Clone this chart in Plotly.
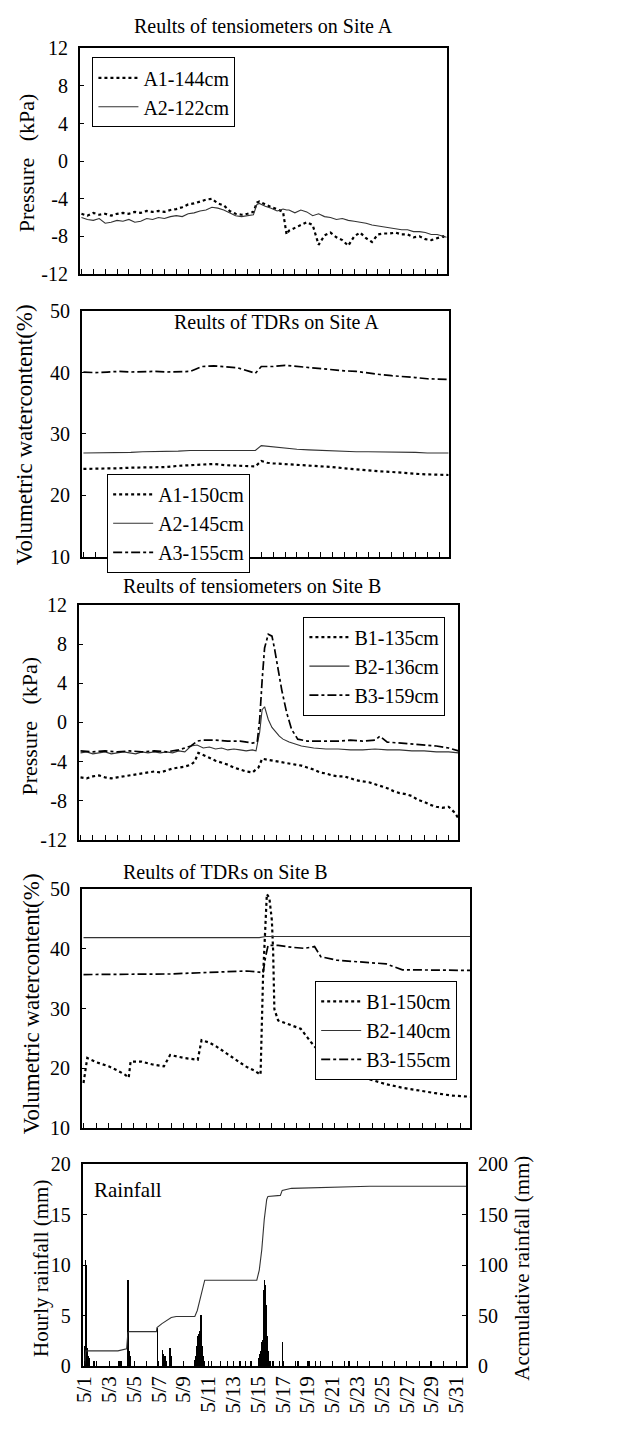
import plotly.graph_objects as go

W, H = 642, 1440
FONT = "Liberation Serif"

# ---------------- data ----------------
DAY_TICKS = list(range(1, 32))
LABEL_DAYS = [1, 3, 5, 7, 9, 11, 13, 15, 17, 19, 21, 23, 25, 27, 29, 31]
DATE_LABELS = ["5/1", "5/3", "5/5", "5/7", "5/9", "5/11", "5/13", "5/15",
               "5/17", "5/19", "5/21", "5/23", "5/25", "5/27", "5/29", "5/31"]

PRESSURE_TICKS = [-12, -8, -4, 0, 4, 8, 12]
PRESSURE_LABELS = ["-12", "-8", "-4", "0", "4", "8", "12"]
VWC_TICKS = [10, 20, 30, 40, 50]
VWC_LABELS = ["10", "20", "30", "40", "50"]
HOURLY_TICKS = [0, 5, 10, 15, 20]
HOURLY_LABELS = ["0", "5", "10", "15", "20"]
ACC_TICKS = [0, 50, 100, 150, 200]
ACC_LABELS = ["0", "50", "100", "150", "200"]

# Panel 1: tensiometers, Site A (kPa)
A_TEN_T = [1.0, 1.5, 2.0, 2.5, 3.0, 3.5, 4.0, 4.5, 5.0, 5.5, 6.0, 6.5, 7.0, 7.5, 8.0, 8.5,
           9.0, 9.5, 10.0, 10.5, 11.0, 11.5, 12.0, 12.5, 13.0, 13.5, 14.0, 14.5, 15.0, 15.5,
           15.8, 16.0, 16.5, 17.0, 17.5, 18.0, 18.3, 18.5, 19.0, 19.5, 20.0, 20.5, 21.0, 21.5,
           22.0, 22.5, 23.0, 23.5, 24.0, 24.5, 25.0, 25.5, 26.0, 26.5, 27.0, 27.5, 28.0, 28.5,
           29.0, 29.5, 30.0, 30.5, 31.0, 31.5, 31.8]
A1_144 = [-5.6, -5.8, -5.5, -5.7, -5.6, -5.8, -5.6, -5.5, -5.6, -5.4, -5.5, -5.3, -5.4, -5.3,
          -5.4, -5.2, -5.1, -4.9, -4.6, -4.5, -4.3, -4.1, -4.0, -4.5, -4.7, -5.3, -5.6, -5.7,
          -5.6, -5.4, -4.4, -4.3, -4.6, -4.9, -5.1, -5.4, -7.8, -7.4, -7.1, -6.8, -6.5, -6.8,
          -8.9, -7.9, -7.6, -8.1, -8.4, -9.0, -8.0, -7.6, -8.2, -8.6, -7.8, -7.7, -7.7, -7.6,
          -7.8, -7.8, -8.1, -8.0, -8.3, -8.4, -8.2, -8.0, -8.3]
A2_122 = [-6.0, -6.2, -6.3, -6.1, -6.6, -6.5, -6.3, -6.4, -6.2, -6.5, -6.4, -6.1, -6.2, -6.0,
          -6.1, -5.9, -5.8, -5.9, -5.6, -5.5, -5.3, -5.2, -4.9, -5.0, -5.2, -5.5, -5.8, -5.9,
          -5.8, -5.7, -4.6, -4.5, -4.8, -5.0, -5.3, -5.1, -5.2, -5.2, -5.5, -5.2, -5.4, -5.8,
          -5.6, -5.9, -6.0, -6.2, -6.1, -6.3, -6.4, -6.5, -6.6, -6.8, -6.9, -7.0, -7.1, -7.2,
          -7.3, -7.3, -7.5, -7.5, -7.6, -7.8, -7.8, -8.0, -8.1]

# Panel 2: TDRs, Site A (%)
A_TDR_T = [1, 2, 3, 4, 5, 6, 7, 8, 9, 10, 10.5, 11, 12, 13, 14, 15, 15.5, 16, 16.5, 17, 18,
           19, 20, 21, 22, 23, 24, 25, 26, 27, 28, 29, 30, 31, 31.8]
A1_150 = [24.3, 24.3, 24.3, 24.4, 24.5, 24.5, 24.6, 24.6, 24.8, 24.9, 25.0, 25.0, 25.1, 24.9,
          24.8, 24.7, 24.7, 25.6, 25.3, 25.2, 25.1, 25.0, 24.9, 24.8, 24.6, 24.4, 24.2, 24.0,
          23.9, 23.8, 23.6, 23.5, 23.4, 23.3, 23.3]
A2_145 = [26.9, 26.9, 26.9, 27.0, 27.0, 27.1, 27.1, 27.1, 27.2, 27.3, 27.3, 27.4, 27.4, 27.4,
          27.3, 27.3, 27.3, 28.1, 28.0, 27.8, 27.6, 27.5, 27.4, 27.3, 27.2, 27.2, 27.1, 27.1,
          27.1, 27.0, 27.0, 27.0, 26.9, 26.9, 26.9]
A3_155 = [40.1, 40.0, 40.1, 40.2, 40.1, 40.2, 40.2, 40.1, 40.1, 40.2, 40.6, 41.0, 41.1, 40.9,
          40.8, 40.2, 39.9, 41.0, 41.0, 41.0, 41.2, 41.0, 40.9, 40.7, 40.5, 40.3, 40.2, 39.9,
          39.7, 39.5, 39.4, 39.2, 39.0, 38.9, 38.9]

# Panel 3: tensiometers, Site B (kPa)
B1_135_T = [1, 1.5, 2, 2.5, 3, 3.5, 4, 4.5, 5, 5.5, 6, 6.5, 7, 7.5, 8, 8.5, 9, 9.5, 10, 10.3,
            10.6, 11, 11.5, 12, 12.5, 13, 13.5, 14, 14.5, 15, 15.5, 15.8, 16.2, 16.6, 17, 17.5,
            18, 18.5, 19, 19.5, 20, 20.5, 21, 21.5, 22, 22.5, 23, 23.5, 24, 24.5, 25, 25.5, 26,
            26.5, 27, 27.5, 28, 28.5, 29, 29.5, 30, 30.5, 31, 31.5, 31.8]
B1_135 = [-5.6, -5.7, -5.5, -5.4, -5.6, -5.7, -5.6, -5.5, -5.4, -5.3, -5.2, -5.1, -5.0, -5.1,
          -4.9, -4.7, -4.6, -4.5, -4.3, -4.0, -3.1, -3.3, -3.6, -3.9, -4.1, -4.3, -4.6, -4.8,
          -5.0, -5.1, -4.6, -3.7, -3.8, -3.9, -4.0, -4.1, -4.2, -4.3, -4.4, -4.6, -4.8, -5.1,
          -5.2, -5.4, -5.5, -5.5, -5.7, -5.9, -6.0, -6.1, -6.3, -6.5, -6.7, -7.0, -7.2, -7.3,
          -7.5, -7.9, -8.1, -8.4, -8.6, -8.7, -8.6, -9.2, -9.8]
B2_136_T = [1, 1.5, 2, 2.5, 3, 3.5, 4, 4.5, 5, 5.5, 6, 6.5, 7, 7.5, 8, 8.5, 9, 9.5, 10, 10.5,
            11, 11.5, 12, 12.5, 13, 13.5, 14, 14.5, 15, 15.3, 15.6, 15.8, 16.0, 16.3, 16.6,
            16.9, 17.2, 17.5, 18, 18.5, 19, 19.5, 20, 21, 22, 23, 24, 25, 26, 27, 28, 29, 30,
            31, 31.8]
B2_136 = [-3.1, -3.0, -3.2, -3.1, -3.0, -3.2, -3.1, -3.0, -3.1, -3.2, -3.0, -3.1, -3.0, -3.1,
          -3.0, -3.1, -2.9, -3.0, -2.4, -2.3, -2.6, -2.5, -2.7, -2.6, -2.8, -2.7, -2.8, -2.9,
          -2.8, -2.9, -1.0, 1.3, 1.6, 0.3, -0.5, -1.0, -1.4, -1.7, -2.0, -2.2, -2.4, -2.5,
          -2.6, -2.7, -2.7, -2.8, -2.8, -2.7, -2.8, -2.8, -2.9, -2.9, -3.0, -3.0, -3.1]
B3_159_T = [1, 2, 3, 4, 5, 6, 7, 8, 9, 10, 10.5, 11, 12, 13, 14, 15, 15.4, 15.6, 15.8, 16.0,
            16.3, 16.6, 16.8, 17.1, 17.4, 17.8, 18.2, 18.7, 19.5, 20, 21, 22, 23, 24, 25, 25.4,
            26, 27, 28, 29, 30, 31, 31.8]
B3_159 = [-2.9, -3.0, -2.9, -3.0, -2.9, -3.0, -2.9, -3.0, -2.8, -2.4, -1.9, -1.8, -1.8, -1.9,
          -1.9, -2.1, -2.0, 0.3, 4.3, 7.6, 9.0, 8.8, 7.6, 5.3, 3.3, 1.0, -0.7, -1.7, -1.9,
          -1.9, -1.9, -1.9, -1.8, -1.9, -1.8, -1.4, -2.0, -2.1, -2.2, -2.3, -2.4, -2.6, -2.9]

# Panel 4: TDRs, Site B (%)
B1_150_T = [1.0, 1.3, 2.0, 3.0, 3.7, 4.3, 4.6, 4.75, 5.6, 6.5, 7.4, 7.9, 9.0, 10.1, 10.4, 11.0,
            11.6, 12.3, 12.9, 13.9, 14.6, 15.1, 15.3, 15.6, 15.8, 16.0, 16.1, 16.2, 16.5, 17.3,
            18.3, 19.1, 20.1, 21.2, 22.5, 23.8, 25.1, 26.4, 27.7, 29.0, 30.3, 31.8]
B1_150 = [17.5, 21.7, 21.0, 20.3, 19.6, 18.9, 18.4, 21.1, 21.1, 20.6, 20.3, 22.2, 21.7, 21.4,
          24.7, 24.3, 23.6, 22.6, 21.7, 20.3, 19.6, 18.9, 35.4, 49.2, 48.6, 44.8, 39.8, 29.9,
          28.0, 27.4, 26.6, 24.4, 21.9, 20.0, 18.9, 18.1, 17.3, 16.7, 16.2, 15.8, 15.4, 15.2]
B2_140_T = [1, 5, 10, 15, 15.5, 20, 25, 31.8]
B2_140 = [41.9, 41.9, 41.9, 41.9, 42.1, 42.1, 42.1, 42.1]
B3_155_T = [1, 3, 5, 7, 8, 9, 10, 11, 12, 13, 14, 15, 15.3, 15.5, 15.7, 16.5, 17.5, 18.6, 19.4,
            19.9, 21.2, 22.5, 23.8, 25.1, 26.4, 27.5, 29, 31.8]
B3_155 = [35.7, 35.7, 35.8, 35.7, 35.8, 35.9, 36.0, 36.1, 36.2, 36.2, 36.3, 36.1, 36.0, 38.7,
          40.6, 40.6, 40.3, 40.1, 40.4, 38.7, 38.1, 37.9, 37.7, 37.5, 36.5, 36.5, 36.4, 36.4]

# Panel 5: rainfall
RAIN_T = [1.00, 1.04, 1.08, 1.12, 1.16, 1.20, 1.25, 1.29, 1.33, 1.75, 3.75, 3.90,
          4.50, 4.54, 4.58, 4.62, 6.85, 7.25, 7.30, 7.45, 7.50, 7.60, 7.85, 7.90, 7.95,
          9.90, 9.95, 10.00, 10.05, 10.10, 10.15, 10.20, 10.25, 10.30, 10.35, 10.40, 10.45,
          10.50, 10.55, 10.65, 11.20, 12.50, 13.50, 14.40,
          15.00, 15.05, 15.10, 15.15, 15.20, 15.25, 15.30, 15.35, 15.40, 15.45, 15.50, 15.55,
          15.60, 15.65, 15.70, 15.75, 15.80, 15.85, 16.20, 16.70, 16.95, 17.00, 18.20, 19.10,
          19.60, 22.30, 28.90]
RAIN_MM = [2.0, 10.5, 10.0, 4.8, 1.8, 1.5, 1.0, 1.0, 0.8, 0.5, 0.5, 0.5,
           8.5, 1.5, 1.2, 1.0, 3.8, 1.6, 1.2, 1.0, 1.0, 0.5, 1.8, 1.5, 1.0,
           0.6, 1.0, 1.5, 2.0, 2.5, 3.0, 3.2, 3.0, 3.5, 5.0, 3.0, 2.0,
           1.5, 1.0, 0.5, 0.5, 0.5, 0.5, 0.5,
           0.5, 0.8, 1.0, 1.2, 1.5, 2.0, 2.4, 2.6, 3.5, 7.5, 8.5, 8.0,
           6.0, 6.0, 3.0, 1.5, 1.0, 0.5, 0.5, 0.5, 2.4, 0.5, 0.5, 0.5,
           0.5, 0.5, 0.5]
CUM_T = [1.0, 1.05, 1.1, 3.7, 4.0, 4.4, 4.5, 4.6, 6.8, 6.85, 7.25, 7.6, 8.0, 8.4, 9.9, 10.1,
         10.3, 10.5, 10.7, 14.9, 15.1, 15.3, 15.5, 15.7, 15.8, 16.8, 16.95, 17.7, 22.2, 24.0, 31.8]
CUM_MM = [0, 10, 15, 15, 16, 17, 33, 34, 34, 38, 42, 45, 48, 49, 49, 55,
          65, 78, 85, 85, 95, 115, 145, 165, 168, 169, 174, 176, 177, 178, 178]

# ---------------- layout geometry (pixels) ----------------
PANELS = [  # x0, x1, y0(top), y1(bottom)
    (71, 445, 38, 267),
    (73, 447, 305, 554),
    (70, 457, 603, 842),
    (73, 469, 892, 1134),
    (74, 465, 1171, 1376),
]
XR = [0.85, 31.8]


def xd(a, b):
    return [a / W, b / W]


def yd(top, bot):
    return [1 - bot / H, 1 - top / H]


def px(x):
    return x / W


def py(y):
    return 1 - y / H


fig = go.Figure()

SOLID = dict(color="#333333", width=1.1)
DOT = dict(color="black", width=2.2, dash="dot")
DASHDOT = dict(color="black", width=1.7, dash="dashdot")

# panel 1
fig.add_trace(go.Scatter(x=A_TEN_T, y=A1_144, name="A1-144cm", mode="lines", line=DOT,
                         xaxis="x", yaxis="y", legend="legend"))
fig.add_trace(go.Scatter(x=A_TEN_T, y=A2_122, name="A2-122cm", mode="lines", line=SOLID,
                         xaxis="x", yaxis="y", legend="legend"))
# panel 2
fig.add_trace(go.Scatter(x=A_TDR_T, y=A1_150, name="A1-150cm", mode="lines", line=DOT,
                         xaxis="x2", yaxis="y2", legend="legend2"))
fig.add_trace(go.Scatter(x=A_TDR_T, y=A2_145, name="A2-145cm", mode="lines", line=SOLID,
                         xaxis="x2", yaxis="y2", legend="legend2"))
fig.add_trace(go.Scatter(x=A_TDR_T, y=A3_155, name="A3-155cm", mode="lines", line=DASHDOT,
                         xaxis="x2", yaxis="y2", legend="legend2"))
# panel 3
fig.add_trace(go.Scatter(x=B1_135_T, y=B1_135, name="B1-135cm", mode="lines", line=DOT,
                         xaxis="x3", yaxis="y3", legend="legend3"))
fig.add_trace(go.Scatter(x=B2_136_T, y=B2_136, name="B2-136cm", mode="lines", line=SOLID,
                         xaxis="x3", yaxis="y3", legend="legend3"))
fig.add_trace(go.Scatter(x=B3_159_T, y=B3_159, name="B3-159cm", mode="lines", line=DASHDOT,
                         xaxis="x3", yaxis="y3", legend="legend3"))
# panel 4
fig.add_trace(go.Scatter(x=B1_150_T, y=B1_150, name="B1-150cm", mode="lines", line=DOT,
                         xaxis="x4", yaxis="y4", legend="legend4"))
fig.add_trace(go.Scatter(x=B2_140_T, y=B2_140, name="B2-140cm", mode="lines", line=SOLID,
                         xaxis="x4", yaxis="y4", legend="legend4"))
fig.add_trace(go.Scatter(x=B3_155_T, y=B3_155, name="B3-155cm", mode="lines", line=DASHDOT,
                         xaxis="x4", yaxis="y4", legend="legend4"))
# panel 5
fig.add_trace(go.Bar(x=RAIN_T, y=RAIN_MM, width=0.05, marker=dict(color="black", line_width=0),
                     xaxis="x5", yaxis="y5", showlegend=False, name="Hourly rainfall"))
fig.add_trace(go.Scatter(x=CUM_T, y=CUM_MM, mode="lines", line=dict(color="#333333", width=1.1),
                         xaxis="x5", yaxis="y6", showlegend=False, name="Accumulative rainfall"))

TICKFONT = dict(family=FONT, size=20, color="black")
AX_COMMON = dict(showline=True, linecolor="black", linewidth=1.5, mirror=True,
                 ticks="inside", ticklen=5, tickcolor="black", showgrid=False,
                 zeroline=False, tickfont=TICKFONT)

yconf = [
    ([-12, 12], PRESSURE_TICKS, PRESSURE_LABELS),
    ([10, 50], VWC_TICKS, VWC_LABELS),
    ([-12, 12], PRESSURE_TICKS, PRESSURE_LABELS),
    ([10, 50], VWC_TICKS, VWC_LABELS),
    ([0, 20], HOURLY_TICKS, HOURLY_LABELS),
]
layout = dict(width=W, height=H, margin=dict(l=0, r=0, t=0, b=0),
              paper_bgcolor="white", plot_bgcolor="white",
              font=dict(family=FONT, color="black"), bargap=0, barmode="overlay")

for i, (x0, x1, y0, y1) in enumerate(PANELS):
    sfx = "" if i == 0 else str(i + 1)
    last = (i == 4)
    xa = dict(AX_COMMON, domain=xd(x0, x1), range=XR, anchor="y" + sfx)
    if last:
        xa.update(tickmode="array", tickvals=LABEL_DAYS, ticktext=DATE_LABELS,
                  tickangle=-90, showticklabels=True, tickfont=dict(TICKFONT, size=21),
                  minor=dict(tickmode="array", tickvals=DAY_TICKS, ticks="inside",
                             ticklen=5, tickcolor="black"))
    else:
        xa.update(tickmode="array", tickvals=DAY_TICKS, showticklabels=False)
    layout["xaxis" + sfx] = xa
    rng, tv, tt = yconf[i]
    ya = dict(AX_COMMON, domain=yd(y0, y1), range=rng, tickmode="array", tickvals=tv,
              ticktext=tt, anchor="x" + sfx, ticklabelstandoff=6)
    if last:
        ya["mirror"] = False
    layout["yaxis" + sfx] = ya

layout["yaxis6"] = dict(AX_COMMON, overlaying="y5", side="right", range=[0, 200],
                        tickmode="array", tickvals=ACC_TICKS, ticktext=ACC_LABELS,
                        anchor="x5", mirror=False, ticklabelstandoff=6)

legend_common = dict(bgcolor="white", bordercolor="black", borderwidth=1,
                     font=dict(family=FONT, size=20, color="black"),
                     xanchor="left", yanchor="top", tracegroupgap=0, itemwidth=40)
layout["legend"] = dict(legend_common, x=px(84), y=py(47))
layout["legend2"] = dict(legend_common, x=px(99), y=py(470))
layout["legend3"] = dict(legend_common, x=px(299), y=py(615))
layout["legend4"] = dict(legend_common, x=px(311), y=py(985))

fig.update_layout(**layout)

anns = []


def ann(text, x, y, size=18, angle=0, xanchor="center"):
    anns.append(dict(text=text, x=px(x), y=py(y), xref="paper", yref="paper",
                     showarrow=False, textangle=angle, xanchor=xanchor, yanchor="middle",
                     font=dict(family=FONT, size=size, color="black")))


ann("Reults of tensiometers on Site A", 258, 15, 20)
ann("Reults of TDRs on Site A", 272, 316, 20)
ann("Reults of tensiometers on Site B", 247, 584, 20)
ann("Reults of TDRs on Site B", 220, 874, 20)
ann("Pressure   (kPa)", 17, 154, 22, -90)
ann("Volumetric watercontent(%)", 15, 430, 23, -90)
ann("Pressure   (kPa)", 20, 726, 22, -90)
ann("Volumetric watercontent(%)", 22, 1008, 23, -90)
ann("Hourly rainfall (mm)", 32, 1277, 21, -90)
ann("Accmulative rainfall (mm)", 522, 1277, 21, -90)
ann("Rainfall", 84, 1197, 21, 0, "left")
fig.update_layout(annotations=anns)

fig.write_html("out.html")
